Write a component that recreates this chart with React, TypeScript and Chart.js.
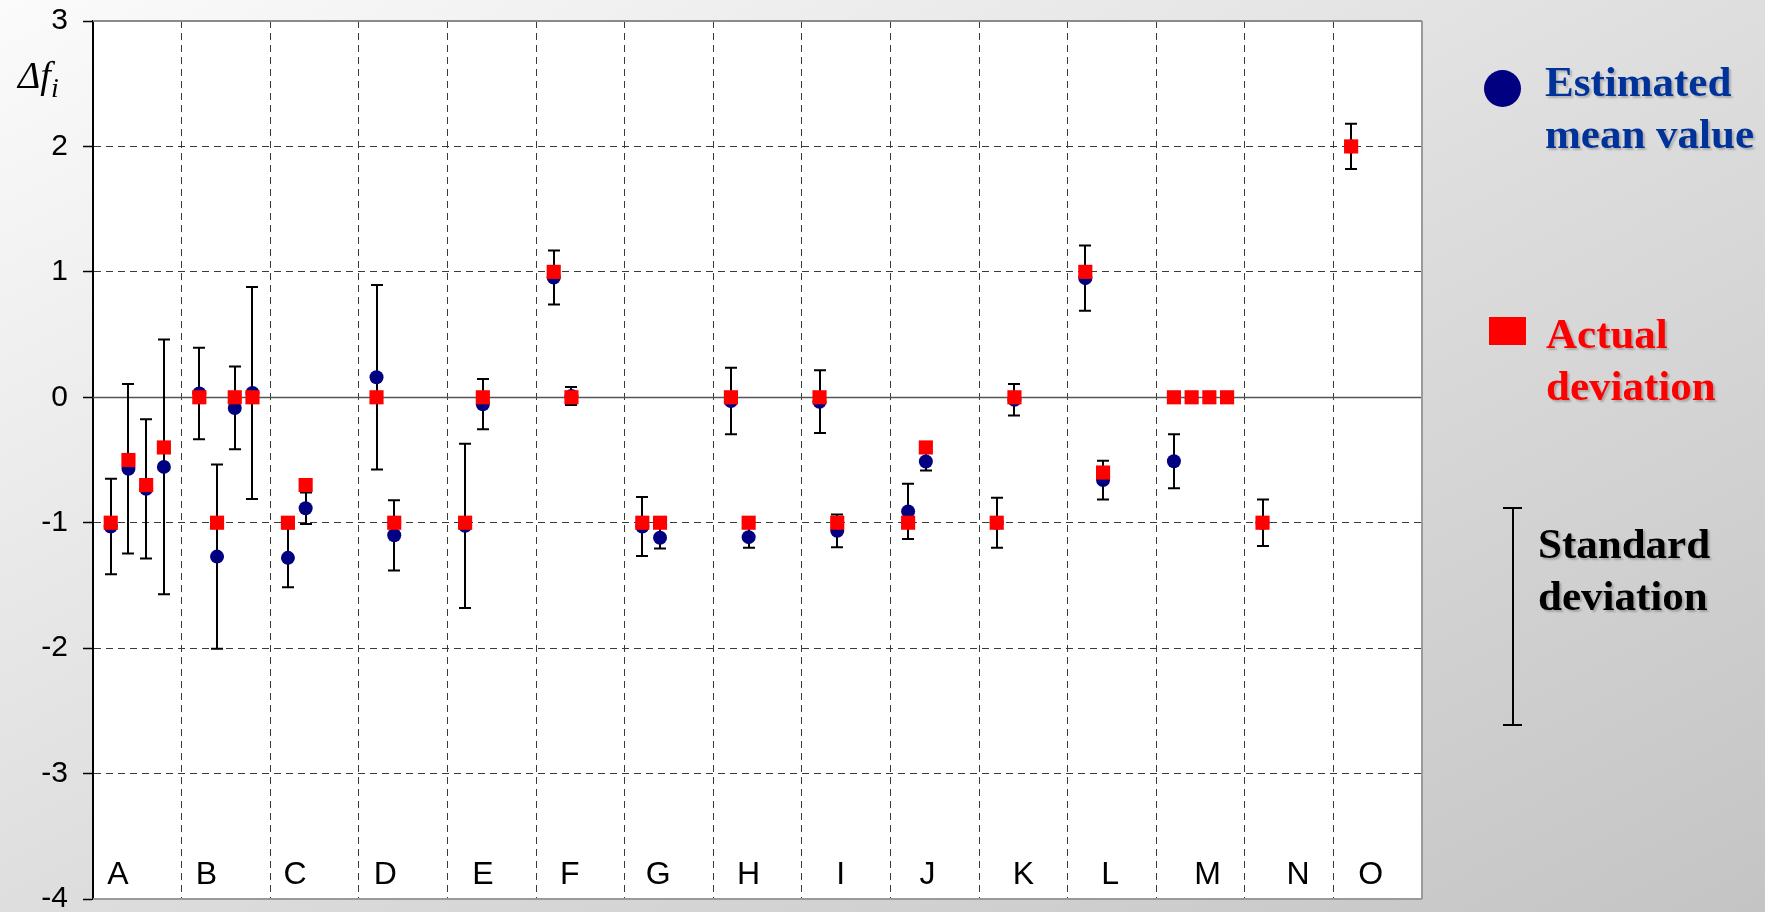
import React, { useEffect, useRef } from 'react';
import { Chart, registerables } from 'chart.js';

Chart.register(...registerables);

// Groups along the horizontal axis; each group spans 5 units on the x scale.
const groupLabels = ['A', 'B', 'C', 'D', 'E', 'F', 'G', 'H', 'I', 'J', 'K', 'L', 'M', 'N', 'O'];
const groupLabelX = [1.4, 6.4, 11.4, 16.5, 22.0, 26.9, 31.9, 37.0, 42.2, 47.1, 52.5, 57.4, 62.9, 68.0, 72.1];

// Position of each measurement on the x scale
const slotX = [1, 2, 3, 4, 6, 7, 8, 9, 11, 12, 16, 17, 21, 22, 26, 27, 31, 32, 36, 37, 41, 42, 46, 47, 51, 52, 56, 57, 61, 62, 63, 64, 66, 71];

// Actual deviation (red squares)
const actualDeviation = [-1, -0.5, -0.7, -0.4, 0, -1, 0, 0, -1, -0.7, 0, -1, -1, 0, 1, 0, -1, -1, 0, -1, 0, -1, -1, -0.4, -1, 0, 1, -0.6, 0, 0, 0, 0, -1, 2];

// Estimated mean value (blue circles)
const meanValue = [-1.03, -0.57, -0.73, -0.555, 0.03, -1.27, -0.085, 0.035, -1.28, -0.885, 0.16, -1.1, -1.025, -0.055, 0.955, 0.01, -1.03, -1.12, -0.03, -1.115, -0.035, -1.065, -0.91, -0.512, -1.0, -0.02, 0.95, -0.66, -0.51, null, null, null, -1.0, 2.0];

// Standard deviation of the estimate (error bars)
const stdDev = [0.38, 0.675, 0.555, 1.015, 0.365, 0.735, 0.33, 0.845, 0.235, 0.125, 0.735, 0.28, 0.655, 0.2, 0.215, 0.072, 0.235, 0.085, 0.265, 0.085, 0.25, 0.13, 0.22, 0.072, 0.2, 0.125, 0.26, 0.155, 0.215, null, null, null, 0.185, 0.18];

const yTicks = [3, 2, 1, 0, -1, -2, -3, -4];

const SANS = '"Liberation Sans", Arial, Helvetica, sans-serif';
const SERIF = '"Liberation Serif", "Times New Roman", Times, serif';

const plotBackground = {
  id: 'plotBackground',
  beforeDraw(chart: any) {
    const { ctx, chartArea: a } = chart;
    ctx.save();
    ctx.fillStyle = '#ffffff';
    ctx.fillRect(a.left, a.top, a.right - a.left, a.bottom - a.top);
    ctx.restore();
  },
};

const frameAndBars = {
  id: 'frameAndBars',
  beforeDatasetsDraw(chart: any) {
    const { ctx, chartArea: a, scales } = chart;
    const xs = scales.x;
    const ys = scales.y;
    ctx.save();
    // zero line
    const y0 = Math.round(ys.getPixelForValue(0)) + 0.5;
    ctx.strokeStyle = '#555555';
    ctx.lineWidth = 1.5;
    ctx.beginPath();
    ctx.moveTo(a.left, y0);
    ctx.lineTo(a.right, y0);
    ctx.stroke();
    // top, right and bottom edges of the plot
    ctx.strokeStyle = '#8a8a8a';
    ctx.lineWidth = 2;
    ctx.beginPath();
    ctx.moveTo(a.left, a.top);
    ctx.lineTo(a.right, a.top);
    ctx.stroke();
    ctx.strokeStyle = '#9a9a9a';
    ctx.lineWidth = 2;
    ctx.beginPath();
    ctx.moveTo(a.right, a.top);
    ctx.lineTo(a.right, a.bottom);
    ctx.moveTo(a.left, a.bottom);
    ctx.lineTo(a.right, a.bottom);
    ctx.stroke();
    // error bars
    ctx.strokeStyle = '#000000';
    ctx.lineWidth = 2;
    slotX.forEach((sx, i) => {
      const m = meanValue[i];
      const s = stdDev[i];
      if (m == null || s == null) return;
      const px = Math.round(xs.getPixelForValue(sx));
      const top = ys.getPixelForValue(m + s);
      const bot = ys.getPixelForValue(m - s);
      ctx.beginPath();
      ctx.moveTo(px, top);
      ctx.lineTo(px, bot);
      ctx.moveTo(px - 6, top);
      ctx.lineTo(px + 6, top);
      ctx.moveTo(px - 6, bot);
      ctx.lineTo(px + 6, bot);
      ctx.stroke();
    });
    ctx.restore();
  },
  afterDraw(chart: any) {
    const { ctx, chartArea: a, scales } = chart;
    ctx.save();
    ctx.fillStyle = '#000000';
    ctx.font = `32px ${SANS}`;
    ctx.textAlign = 'center';
    ctx.textBaseline = 'alphabetic';
    groupLabels.forEach((lab, i) => {
      ctx.fillText(lab, scales.x.getPixelForValue(groupLabelX[i]), a.bottom - 15);
    });
    ctx.restore();
  },
};

export default function App() {
  const canvasRef = useRef<HTMLCanvasElement | null>(null);

  useEffect(() => {
    const canvas = canvasRef.current;
    if (!canvas) return;
    const chart = new Chart(canvas, {
      type: 'scatter',
      data: {
        datasets: [
          {
            label: 'Actual deviation',
            data: slotX.map((x, i) => ({ x, y: actualDeviation[i] })),
            pointStyle: 'rect',
            pointRadius: 10,
            pointHoverRadius: 10,
            backgroundColor: '#ff0000',
            borderWidth: 0,
            showLine: false,
          },
          {
            label: 'Estimated mean value',
            data: slotX
              .map((x, i) => ({ x, y: meanValue[i] }))
              .filter((p) => p.y != null) as any,
            pointStyle: 'circle',
            pointRadius: 7,
            pointHoverRadius: 7,
            backgroundColor: '#000080',
            borderWidth: 0,
            showLine: false,
          },
        ],
      },
      options: {
        animation: false,
        responsive: false,
        maintainAspectRatio: false,
        layout: { padding: { left: 0, top: 21, right: 343, bottom: 41 } },
        plugins: { legend: { display: false }, tooltip: { enabled: false } },
        scales: {
          x: {
            type: 'linear',
            min: 0,
            max: 75,
            ticks: { display: false, stepSize: 5 },
            grid: {
              drawTicks: false,
              lineWidth: 1,
              color: (c: any) =>
                c.tick && (c.tick.value === 0 || c.tick.value === 75) ? 'rgba(0,0,0,0)' : '#3a3a3a',
            },
            border: { display: false, dash: [7, 5] },
            afterFit: (s: any) => {
              s.height = 0;
              s.paddingLeft = 0;
              s.paddingRight = 0;
            },
          },
          y: {
            type: 'linear',
            min: -4,
            max: 3,
            afterBuildTicks: (s: any) => {
              s.ticks = yTicks.map((v) => ({ value: v }));
            },
            ticks: {
              color: '#000000',
              font: { family: SANS, size: 30 },
              padding: 15,
            },
            grid: {
              drawTicks: true,
              tickLength: 10,
              tickColor: '#000000',
              tickWidth: 1.5,
              tickBorderDash: [],
              lineWidth: 1,
              color: (c: any) =>
                c.tick && (c.tick.value === 3 || c.tick.value === -4 || c.tick.value === 0)
                  ? 'rgba(0,0,0,0)'
                  : '#3a3a3a',
            },
            border: { display: true, color: '#000000', width: 2, dash: [7, 5] },
            afterFit: (s: any) => {
              s.width = 93;
              s.paddingTop = 0;
              s.paddingBottom = 0;
            },
          },
        },
      },
      plugins: [plotBackground, frameAndBars],
    });
    return () => chart.destroy();
  }, []);

  const legendText: React.CSSProperties = {
    position: 'absolute',
    font: `bold 43px ${SERIF}`,
    lineHeight: '52px',
    whiteSpace: 'nowrap',
    textShadow: '2px 2px 2px rgba(0,0,0,0.22)',
  };

  return (
    <div
      style={{
        position: 'fixed',
        left: 0,
        top: 0,
        width: 1765,
        height: 912,
        overflow: 'hidden',
        background: 'linear-gradient(to bottom right, #fbfbfb 0%, #dedede 50%, #c4c4c4 100%)',
      }}
    >
      <canvas
        ref={canvasRef}
        width={1765}
        height={940}
        style={{ position: 'absolute', left: 0, top: 0, display: 'block' }}
      />
      <div
        style={{
          position: 'absolute',
          left: 18,
          top: 56,
          font: `italic 38px ${SERIF}`,
          lineHeight: '38px',
          color: '#000',
          whiteSpace: 'nowrap',
        }}
      >
        Δf<span style={{ fontSize: 28, position: 'relative', top: 9 }}>i</span>
      </div>

      <div
        style={{
          position: 'absolute',
          left: 1484,
          top: 70,
          width: 37,
          height: 37,
          borderRadius: '50%',
          background: '#000080',
        }}
      />
      <div style={{ ...legendText, left: 1545, top: 56, color: '#003399' }}>
        Estimated
        <br />
        mean value
      </div>

      <div
        style={{ position: 'absolute', left: 1489, top: 317, width: 37, height: 28, background: '#ff0000' }}
      />
      <div style={{ ...legendText, left: 1546, top: 308, color: '#ff0000' }}>
        Actual
        <br />
        deviation
      </div>

      <div style={{ position: 'absolute', left: 1512, top: 508, width: 2, height: 218, background: '#000' }} />
      <div style={{ position: 'absolute', left: 1503, top: 507, width: 19, height: 2, background: '#000' }} />
      <div style={{ position: 'absolute', left: 1503, top: 724, width: 19, height: 2, background: '#000' }} />
      <div style={{ ...legendText, left: 1538, top: 518, color: '#000000' }}>
        Standard
        <br />
        deviation
      </div>
    </div>
  );
}
